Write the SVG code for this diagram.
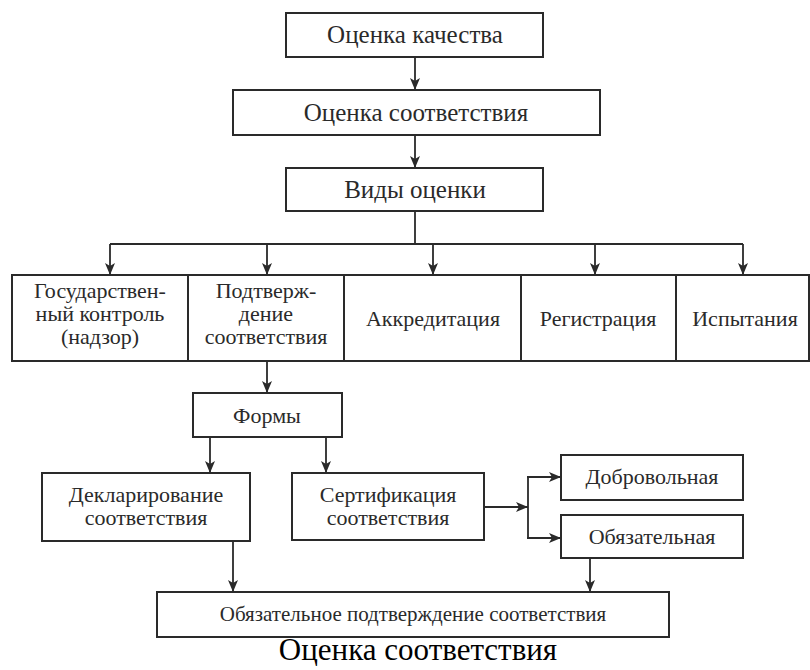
<svg xmlns="http://www.w3.org/2000/svg" width="810" height="670" viewBox="0 0 810 670">
<style>
.b{fill:#fff;stroke:#2a2a2a;stroke-width:2}
.t{font-family:"Liberation Serif","Times New Roman",serif;font-size:22px;fill:#2a2a2a;text-anchor:middle}
.tl{font-size:25px}
.c{font-family:"Liberation Serif","Times New Roman",serif;font-size:31px;fill:#000;text-anchor:middle}
.l{fill:none;stroke:#2a2a2a;stroke-width:1.8}
</style>
<defs>
<marker id="a" markerUnits="userSpaceOnUse" markerWidth="12" markerHeight="10" viewBox="0 0 12 10" refX="12" refY="5" orient="auto">
<path d="M0,0 L12,5 L0,10 L3,5 Z" fill="#2a2a2a"/>
</marker>
</defs>
<rect width="810" height="670" fill="#fff"/>
<g id="connectors">
<line class="l" x1="415" y1="57" x2="415" y2="90" marker-end="url(#a)"/>
<line class="l" x1="415" y1="135" x2="415" y2="168" marker-end="url(#a)"/>
<line class="l" x1="415" y1="211" x2="415" y2="244"/>
<line class="l" x1="110" y1="244" x2="743" y2="244"/>
<line class="l" x1="110" y1="244" x2="110" y2="275" marker-end="url(#a)"/>
<line class="l" x1="267" y1="244" x2="267" y2="275" marker-end="url(#a)"/>
<line class="l" x1="433" y1="244" x2="433" y2="275" marker-end="url(#a)"/>
<line class="l" x1="595" y1="244" x2="595" y2="275" marker-end="url(#a)"/>
<line class="l" x1="743" y1="244" x2="743" y2="275" marker-end="url(#a)"/>
<line class="l" x1="267" y1="361" x2="267" y2="393" marker-end="url(#a)"/>
<line class="l" x1="210" y1="437" x2="210" y2="473" marker-end="url(#a)"/>
<line class="l" x1="326" y1="437" x2="326" y2="473" marker-end="url(#a)"/>
<line class="l" x1="484" y1="507" x2="528" y2="507" marker-end="url(#a)"/>
<line class="l" x1="528" y1="476" x2="528" y2="539"/>
<line class="l" x1="527" y1="477" x2="561" y2="477" marker-end="url(#a)"/>
<line class="l" x1="527" y1="538" x2="561" y2="538" marker-end="url(#a)"/>
<line class="l" x1="233" y1="541" x2="233" y2="592" marker-end="url(#a)"/>
<line class="l" x1="590" y1="558" x2="590" y2="592" marker-end="url(#a)"/>
</g>
<g id="n1"><rect class="b" x="286" y="13" width="257" height="44"/><text class="t tl" x="415" y="43">Оценка качества</text></g>
<g id="n2"><rect class="b" x="233" y="90" width="367" height="45"/><text class="t tl" x="416" y="121">Оценка соответствия</text></g>
<g id="n3"><rect class="b" x="286" y="168" width="257" height="43"/><text class="t tl" x="415" y="198">Виды оценки</text></g>
<g id="n4"><rect class="b" x="12" y="275" width="176" height="86"/><text class="t" x="100"><tspan x="100" y="298">Государствен-</tspan><tspan x="100" y="321">ный контроль</tspan><tspan x="100" y="344">(надзор)</tspan></text></g>
<g id="n5"><rect class="b" x="188" y="275" width="156" height="86"/><text class="t" x="266"><tspan x="266" y="298">Подтверж-</tspan><tspan x="266" y="321">дение</tspan><tspan x="266" y="344">соответствия</tspan></text></g>
<g id="n6"><rect class="b" x="344" y="275" width="177" height="86"/><text class="t" x="433" y="326">Аккредитация</text></g>
<g id="n7"><rect class="b" x="521" y="275" width="155" height="86"/><text class="t" x="598" y="326">Регистрация</text></g>
<g id="n8"><rect class="b" x="676" y="275" width="133" height="86"/><text class="t" x="745" y="326">Испытания</text></g>
<g id="n9"><rect class="b" x="193" y="393" width="149" height="44"/><text class="t" x="267" y="423">Формы</text></g>
<g id="n10"><rect class="b" x="42" y="473" width="208" height="68"/><text class="t"><tspan x="146" y="502">Декларирование</tspan><tspan x="146" y="525">соответствия</tspan></text></g>
<g id="n11"><rect class="b" x="292" y="473" width="192" height="67"/><text class="t"><tspan x="388" y="502">Сертификация</tspan><tspan x="388" y="525">соответствия</tspan></text></g>
<g id="n12"><rect class="b" x="561" y="455" width="182" height="45"/><text class="t" x="652" y="484">Добровольная</text></g>
<g id="n13"><rect class="b" x="561" y="515" width="182" height="43"/><text class="t" x="652" y="544">Обязательная</text></g>
<g id="n14"><rect class="b" x="157" y="592" width="512" height="45"/><text class="t" x="413" y="621" style="font-size:21px">Обязательное подтверждение соответствия</text></g>
<text class="c" x="418" y="660">Оценка соответствия</text>
</svg>
